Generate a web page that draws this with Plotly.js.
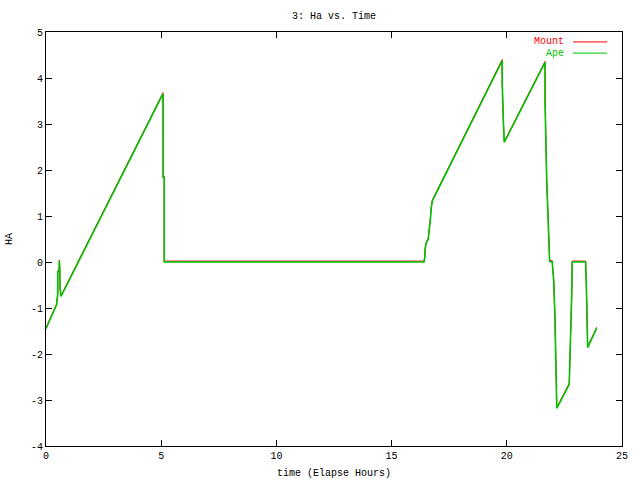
<!DOCTYPE html>
<html>
<head>
<meta charset="utf-8">
<script src="https://cdn.plot.ly/plotly-3.0.1.min.js"></script>
<style>html,body{margin:0;padding:0;background:#fff;}#chart{width:640px;height:480px;}</style>
</head>
<body>
<div id="chart"></div>
<script>
// Series names
var seriesNames = ["Mount", "Ape"];

// Mount (time in elapsed hours, HA)
var mountTime = [0, 0.46, 0.51, 0.51, 0.57, 0.58, 0.60, 0.61, 0.65, 5.08, 5.08, 5.13, 5.13, 16.41, 16.44, 16.46, 16.51, 16.59, 16.64, 16.68, 16.72, 16.77, 19.80, 19.80, 19.85, 19.89, 21.66, 21.66, 21.73, 21.79, 21.83, 21.86, 21.97, 22.00, 22.04, 22.09, 22.14, 22.17, 22.71, 22.76, 22.82, 22.84, 23.42, 23.45, 23.48, 23.51, 23.90];
var mountHA   = [-1.43, -0.91, -0.68, -0.19, -0.17, 0.04, -0.15, -0.55, -0.73, 3.68, 1.86, 1.86, 0.02, 0.02, 0.12, 0.32, 0.44, 0.51, 0.72, 0.93, 1.19, 1.35, 4.40, 3.94, 3.09, 2.62, 4.36, 3.52, 1.82, 0.73, 0.26, 0.03, 0.03, -0.12, -0.42, -1.20, -2.51, -3.16, -2.64, -1.94, -0.65, 0.02, 0.02, -0.44, -1.36, -1.84, -1.42];

// Ape (time in elapsed hours, HA)
var apeTime = [0, 0.46, 0.51, 0.51, 0.57, 0.58, 0.60, 0.61, 0.65, 5.08, 5.08, 5.13, 5.13, 16.41, 16.44, 16.46, 16.51, 16.59, 16.64, 16.68, 16.72, 16.77, 19.80, 19.80, 19.85, 19.89, 21.66, 21.66, 21.73, 21.79, 21.83, 21.86, 21.97, 22.00, 22.04, 22.09, 22.14, 22.17, 22.71, 22.76, 22.82, 22.84, 23.42, 23.45, 23.48, 23.51, 23.90];
var apeHA   = [-1.45, -0.93, -0.70, -0.21, -0.19, 0.02, -0.17, -0.57, -0.75, 3.66, 1.84, 1.84, 0.0, 0.0, 0.10, 0.30, 0.42, 0.49, 0.70, 0.91, 1.17, 1.33, 4.38, 3.92, 3.07, 2.60, 4.34, 3.50, 1.80, 0.71, 0.24, 0.01, 0.0, -0.14, -0.44, -1.22, -2.53, -3.18, -2.66, -1.96, -0.67, 0.0, 0.0, -0.46, -1.38, -1.86, -1.44];

var xTicks = [0, 5, 10, 15, 20, 25];
var yTicks = [-4, -3, -2, -1, 0, 1, 2, 3, 4, 5];

var colors = ["#ff0000", "#00c000"];
var font = {family: "Liberation Mono, DejaVu Sans Mono, monospace", size: 10, color: "#000"};

var traces = [
  {x: mountTime, y: mountHA, name: seriesNames[0], type: "scatter", mode: "lines",
   line: {color: colors[0], width: 1}},
  {x: apeTime, y: apeHA, name: seriesNames[1], type: "scatter", mode: "lines",
   line: {color: colors[1], width: 1.6}}
];

var axisCommon = {
  showgrid: false, zeroline: false, showline: true, linecolor: "#000", linewidth: 1,
  mirror: "ticks", ticks: "inside", ticklen: 6, tickcolor: "#000", tickwidth: 1,
  tickfont: font
};

var layout = {
  width: 640, height: 480,
  margin: {l: 46, r: 18, t: 32, b: 34},
  paper_bgcolor: "#fff", plot_bgcolor: "#fff",
  showlegend: false,
  title: {text: "3: Ha vs. Time", font: font, x: 0.522, xanchor: "center", y: 0.968, yanchor: "middle"},
  xaxis: Object.assign({}, axisCommon, {
    range: [0, 25], tickvals: xTicks, ticktext: xTicks.map(String),
    title: {text: "time (Elapse Hours)", font: font, standoff: 7}
  }),
  yaxis: Object.assign({}, axisCommon, {
    range: [-4, 5], tickvals: yTicks, ticktext: yTicks.map(String),
    title: {text: "HA", font: font, standoff: 16}
  }),
  annotations: [
    {xref: "paper", yref: "paper", x: 0.903, y: 0.976, xanchor: "right", yanchor: "middle",
     text: seriesNames[0], showarrow: false, font: {family: font.family, size: font.size, color: colors[0]}},
    {xref: "paper", yref: "paper", x: 0.903, y: 0.949, xanchor: "right", yanchor: "middle",
     text: seriesNames[1], showarrow: false, font: {family: font.family, size: font.size, color: colors[1]}}
  ],
  shapes: [
    {type: "line", xref: "paper", yref: "paper", x0: 0.915, x1: 0.974, y0: 0.976, y1: 0.976,
     line: {color: colors[0], width: 1}},
    {type: "line", xref: "paper", yref: "paper", x0: 0.915, x1: 0.974, y0: 0.949, y1: 0.949,
     line: {color: colors[1], width: 1}}
  ]
};

Plotly.newPlot("chart", traces, layout, {displayModeBar: false, staticPlot: true});
</script>
</body>
</html>
